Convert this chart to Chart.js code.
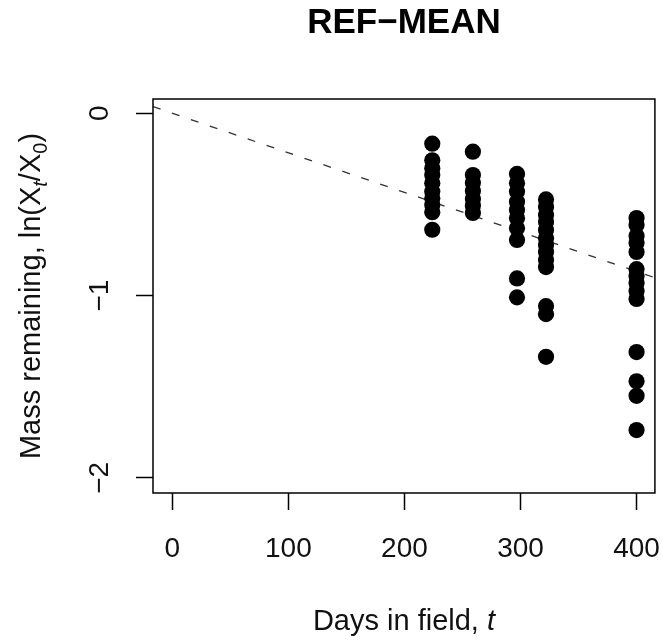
<!DOCTYPE html>
<html><head><meta charset="utf-8">
<script src="https://cdn.jsdelivr.net/npm/chart.js@4.4.1/dist/chart.umd.min.js"></script>
<style>html,body{margin:0;padding:0;background:#fff}#wrap{width:663px;height:642px}</style>
</head><body><div id="wrap"><canvas id="c" width="663" height="642"></canvas></div>
<script>
// ---- text ----
const chartTitle = 'REF\u2212MEAN';
const xTitleText = 'Days in field, ';
const xTitleVar = 't';
const yTitleMain = 'Mass remaining, ln(X';
const yTitleSub1 = 't';
const yTitleMid = '/X';
const yTitleSub2 = '0';
const yTitleEnd = ')';

// ---- data: days in field and ln(X_t/X_0) per sampling date ----
const groupDays = [224, 259, 297, 322, 400];
const massDay224 = [-0.167, -0.258, -0.302, -0.339, -0.384, -0.430, -0.467, -0.503, -0.543, -0.639];
const massDay259 = [-0.211, -0.339, -0.382, -0.426, -0.470, -0.508, -0.547];
const massDay297 = [-0.333, -0.384, -0.430, -0.485, -0.531, -0.576, -0.631, -0.695, -0.906, -1.010];
const massDay322 = [-0.473, -0.514, -0.558, -0.597, -0.640, -0.686, -0.723, -0.761, -0.805, -0.844, -1.058, -1.102, -1.336];
const massDay400 = [-0.575, -0.613, -0.673, -0.712, -0.761, -0.855, -0.893, -0.931, -0.975, -1.019, -1.31, -1.47, -1.55, -1.738];
const massGroups = [massDay224, massDay259, massDay297, massDay322, massDay400];

// mean decay rate (dashed reference line: ln(X/X0) = -k t)
const meanDecayRate = 0.00217;

// ---- axes ----
const xTicks = [0, 100, 200, 300, 400];
const yTicks = [0, -1, -2];
const yTickLabels = ['0', '\u22121', '\u22122'];
const xLimits = [-16.6, 415.8];
const yLimits = [-2.083, 0.078];

const FONT = '"Liberation Sans", Arial, Helvetica, sans-serif';

const points = [];
groupDays.forEach((d, i) => massGroups[i].forEach(v => points.push({x: d, y: v})));
const refLine = xLimits.map(t => ({x: t, y: -meanDecayRate * t}));

const decor = {
  id: 'decor',
  afterDraw(chart) {
    const ctx = chart.ctx, a = chart.chartArea, ys = chart.scales.y;
    ctx.save();
    // box
    ctx.strokeStyle = '#000';
    ctx.lineWidth = 1.5;
    ctx.strokeRect(a.left, a.top, a.right - a.left, a.bottom - a.top);
    // y tick labels (rotated like R)
    ctx.fillStyle = '#111';
    ctx.font = '28px ' + FONT;
    ctx.textAlign = 'center';
    ctx.textBaseline = 'alphabetic';
    yTicks.forEach((v, i) => {
      ctx.save();
      ctx.translate(108, ys.getPixelForValue(v));
      ctx.rotate(-Math.PI / 2);
      ctx.fillText(yTickLabels[i], 0, 0);
      ctx.restore();
    });
    // x title
    ctx.textAlign = 'left';
    ctx.font = '29px ' + FONT;
    const w1 = ctx.measureText(xTitleText).width;
    ctx.font = 'italic 29px ' + FONT;
    const w2 = ctx.measureText(xTitleVar).width;
    const cx = (a.left + a.right) / 2;
    let x0 = cx - (w1 + w2) / 2;
    ctx.font = '29px ' + FONT;
    ctx.fillText(xTitleText, x0, 630);
    ctx.font = 'italic 29px ' + FONT;
    ctx.fillText(xTitleVar, x0 + w1, 630);
    // y title with subscripts
    const pieces = [
      {t: yTitleMain, f: '29px ' + FONT, dy: 0},
      {t: yTitleSub1, f: 'italic 20px ' + FONT, dy: 7},
      {t: yTitleMid, f: '29px ' + FONT, dy: 0},
      {t: yTitleSub2, f: '20px ' + FONT, dy: 7},
      {t: yTitleEnd, f: '29px ' + FONT, dy: 0}
    ];
    let total = 0;
    pieces.forEach(p => { ctx.font = p.f; p.w = ctx.measureText(p.t).width; total += p.w; });
    ctx.save();
    ctx.translate(40, (a.top + a.bottom) / 2);
    ctx.rotate(-Math.PI / 2);
    let px = -total / 2;
    pieces.forEach(p => { ctx.font = p.f; ctx.fillText(p.t, px, p.dy); px += p.w; });
    ctx.restore();
    ctx.restore();
  }
};

new Chart(document.getElementById('c'), {
  type: 'scatter',
  data: {
    datasets: [
      {
        type: 'line',
        data: refLine,
        borderColor: '#333',
        borderWidth: 1.3,
        borderDash: [8, 12],
        pointRadius: 0,
        fill: false,
        order: 2
      },
      {
        data: points,
        backgroundColor: '#000',
        borderWidth: 0,
        pointRadius: 8.1,
        pointHoverRadius: 8.1,
        order: 1
      }
    ]
  },
  options: {
    responsive: false,
    animation: false,
    devicePixelRatio: 1,
    layout: {padding: {left: 0, right: 7, top: 0, bottom: 0}},
    plugins: {
      legend: {display: false},
      tooltip: {enabled: false},
      title: {
        display: true,
        text: chartTitle,
        fullSize: false,
        color: '#000',
        font: {family: FONT, size: 35, weight: 'bold'},
        padding: {top: 2, bottom: 55}
      }
    },
    scales: {
      x: {
        type: 'linear',
        min: xLimits[0], max: xLimits[1],
        afterBuildTicks: s => { s.ticks = xTicks.map(v => ({value: v})); },
        afterFit: s => { s.height = 149; s.paddingLeft = 0; s.paddingRight = 0; },
        grid: {drawOnChartArea: false, drawTicks: true, tickLength: 17, tickColor: '#000', tickWidth: 1.5},
        border: {display: false},
        ticks: {color: '#111', font: {family: FONT, size: 28}, padding: 22, maxRotation: 0, autoSkip: false}
      },
      y: {
        type: 'linear',
        min: yLimits[0], max: yLimits[1],
        afterBuildTicks: s => { s.ticks = yTicks.map(v => ({value: v})); },
        afterFit: s => { s.width = 153; s.paddingTop = 0; s.paddingBottom = 0; },
        grid: {drawOnChartArea: false, drawTicks: true, tickLength: 17, tickColor: '#000', tickWidth: 1.5},
        border: {display: false},
        ticks: {display: false}
      }
    }
  },
  plugins: [decor]
});
</script>
</body></html>
